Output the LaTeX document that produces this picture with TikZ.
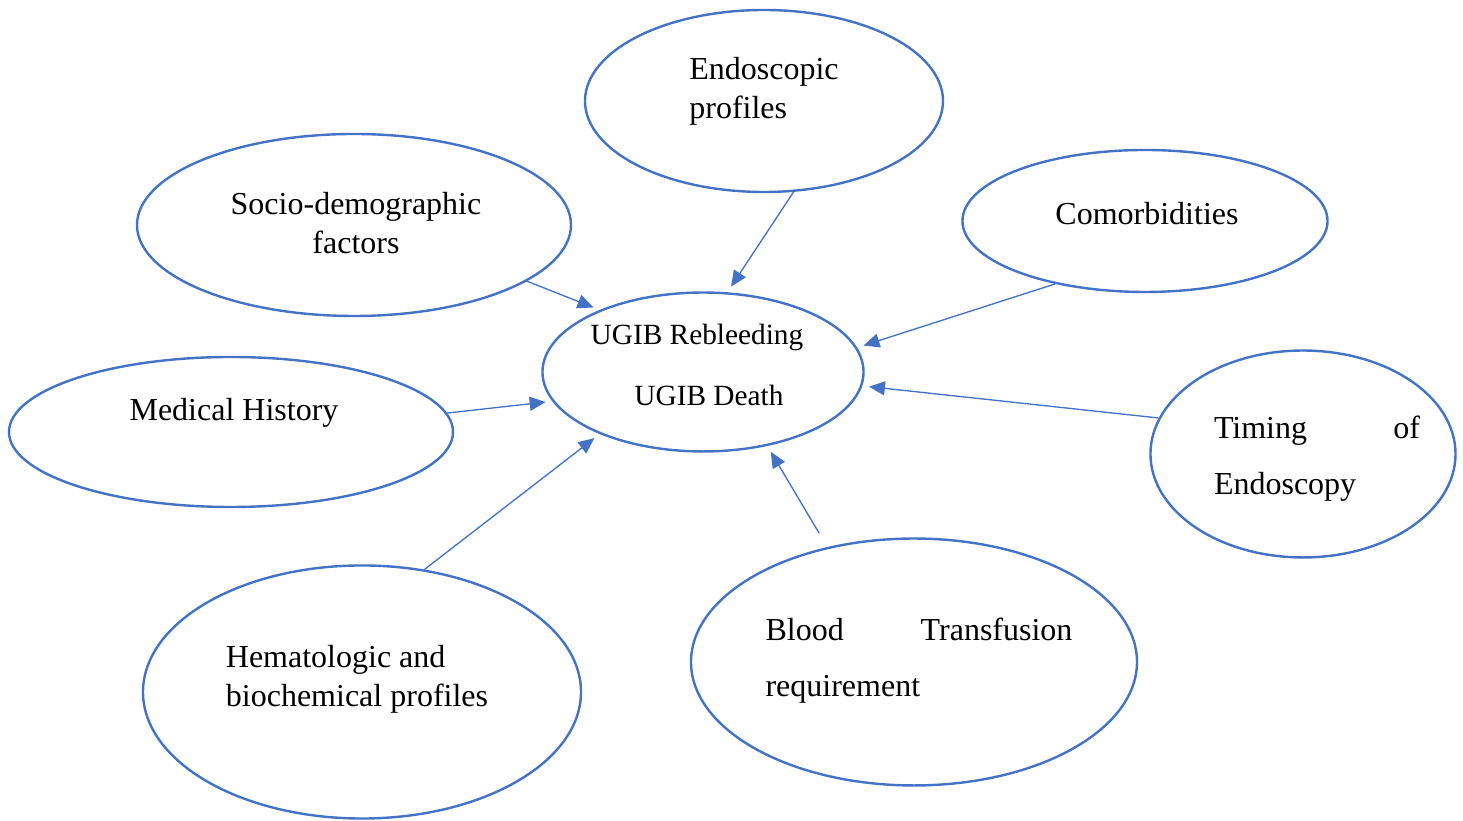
\documentclass[tikz,border=0pt]{standalone}
\usepackage{fontspec}
\setmainfont{Liberation Serif}
\usetikzlibrary{arrows.meta,shapes.geometric}
\definecolor{ovalblue}{HTML}{4472C4}

\begin{document}
\begin{tikzpicture}[x=0.375pt, y=-0.375pt,
    oval/.style={draw=ovalblue, line width=0.9pt, ellipse, inner sep=0pt},
    lbl/.style={font=\fontsize{12}{14.6}\selectfont, inner sep=0pt},
    link/.style={draw=ovalblue, line width=0.5pt, -{Triangle[length=6pt,width=5.25pt]}, shorten >=2.5pt}]
  \useasboundingbox (0,0) rectangle (1463,821);
  \node[oval, minimum width=134.25pt, minimum height=68.25pt] (endo) at (764,101) {};
  \node[oval, minimum width=162.75pt, minimum height=68.25pt] (socio) at (354,225) {};
  \node[oval, minimum width=136.9pt, minimum height=53.25pt] (comor) at (1145,221) {};
  \node[oval, minimum width=120.4pt, minimum height=59.6pt] (ugib) at (703,372) {};
  \node[oval, minimum width=166.5pt, minimum height=56.25pt] (medhist) at (231,432) {};
  \node[oval, minimum width=114.4pt, minimum height=77.6pt] (timing) at (1303,454) {};
  \node[oval, minimum width=164.25pt, minimum height=94.9pt] (hemat) at (362,692) {};
  \node[oval, minimum width=167.25pt, minimum height=92.6pt] (blood) at (914,662) {};

  \node[lbl, align=left] (endo-t) at (764,91) {Endoscopic\\profiles};
  \node[lbl, align=center] (socio-t) at (356,223) {Socio-demographic\\factors};
  \node[lbl] (comor-t) at (1147,214) {Comorbidities};
  \node[lbl, font=\fontsize{11}{13.4}\selectfont] (rebleed-t) at (697,338) {UGIB Rebleeding};
  \node[lbl, font=\fontsize{11}{13.4}\selectfont] (death-t) at (709,395) {UGIB Death};
  \node[lbl] (medhist-t) at (234,413) {Medical History};
  \node[lbl, align=left] (timing-t) at (1317,459) {\makebox[77.25pt][s]{Timing of}\\[6.4pt]Endoscopy};
  \node[lbl, align=left] (blood-t) at (919,661) {\makebox[115.1pt][s]{Blood Transfusion}\\[6.4pt]requirement};
  \node[lbl, align=left] (hemat-t) at (357,679) {Hematologic and\\biochemical profiles};

  \draw[link] (endo.-72) -- (ugib.73.6);
  \draw[link] (socio.-18.5) -- (ugib.149);
  \draw[link] (comor.-145) -- (ugib.9.6);
  \draw[link] (medhist.5.6) -- (ugib.-169.3);
  \draw[link] (timing.166.3) -- (ugib.-5.1);
  \draw[link] (hemat.63.4) -- (ugib.-149.4);
  \draw[link, shorten <=6pt] (blood.127.4) -- (ugib.-49.6);
\end{tikzpicture}
\end{document}
